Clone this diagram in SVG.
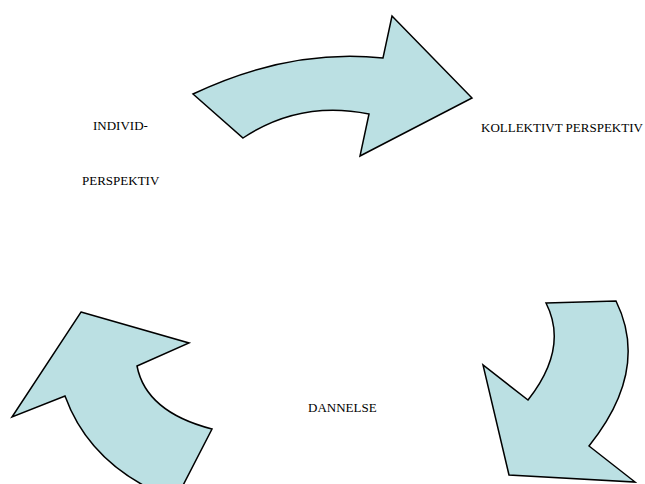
<svg xmlns="http://www.w3.org/2000/svg" width="645" height="484" viewBox="0 0 645 484">
  <style>
    .arrow { fill: #bbe0e3; stroke: #000; stroke-width: 1.5; stroke-linejoin: miter; }
    .label { font-family: "Liberation Serif", "Times New Roman", serif; font-size: 13px; fill: #000; }
  </style>
  <rect width="645" height="484" fill="#fff"/>

  <g id="connectors">
    <!-- curved block arrow: individual to collective -->
    <path id="arrow-top" class="arrow"
          d="M193,94 Q290,48 383,58 L392,16 L472,98 L360,156 L369,114 Q300,100 243,138 Z"/>
    <!-- curved block arrow: collective to formation -->
    <path id="arrow-right" class="arrow"
          d="M546,303 L616,301 Q650,370 589,446 L635,482 L509,475 L483,365 L528,400 Q569,348 546,303 Z"/>
    <!-- curved block arrow: formation to individual -->
    <path id="arrow-left" class="arrow"
          d="M81,312 L189,343 L137,366 Q146,412 212,429 L177,497 L168,497 Q90,465 65,396 L12,417 Z"/>
  </g>

  <g id="node-individ">
    <text class="label" x="93" y="130">INDIVID-</text>
    <text class="label" x="82" y="185">PERSPEKTIV</text>
  </g>
  <g id="node-kollektivt">
    <text class="label" x="481" y="132">KOLLEKTIVT PERSPEKTIV</text>
  </g>
  <g id="node-dannelse">
    <text class="label" x="308" y="412">DANNELSE</text>
  </g>
</svg>
